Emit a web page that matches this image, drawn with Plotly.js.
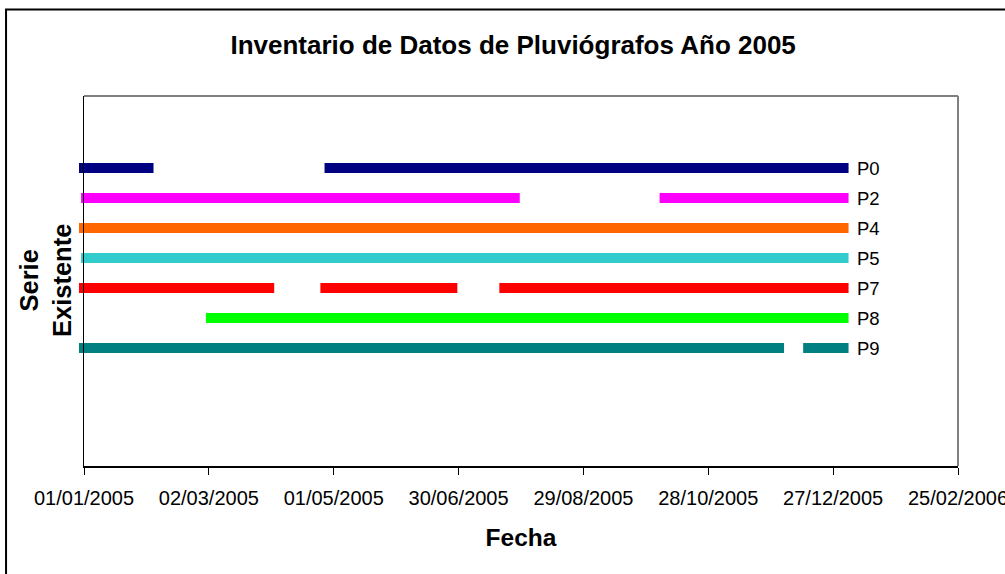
<!DOCTYPE html>
<html>
<head>
<meta charset="utf-8">
<script src="https://cdn.plot.ly/plotly-3.0.1.min.js"></script>
<style>
html,body{margin:0;padding:0;background:#fff;}
#chart{width:1005px;height:574px;}
.scatterlayer path.js-line{stroke-linecap:square;}
</style>
</head>
<body>
<div id="chart"></div>
<script>
// Series names, colours and vertical levels
const seriesNames = ["P0", "P2", "P4", "P5", "P7", "P8", "P9"];
const seriesColors = ["#000080", "#FF00FF", "#FF6600", "#33CCCC", "#FF0000", "#00FF00", "#008080"];
const seriesLevels = [7, 6, 5, 4, 3, 2, 1];

// Periods with existing data (start, end) for each series
const periodsP0 = [["2005-01-01", "2005-02-01"], ["2005-04-29", "2006-01-01"]];
const periodsP2 = [["2005-01-02", "2005-07-27"], ["2005-10-07", "2006-01-01"]];
const periodsP4 = [["2005-01-01", "2006-01-01"]];
const periodsP5 = [["2005-01-02", "2006-01-01"]];
const periodsP7 = [["2005-01-01", "2005-03-31"], ["2005-04-27", "2005-06-27"], ["2005-07-22", "2006-01-01"]];
const periodsP8 = [["2005-03-03", "2006-01-01"]];
const periodsP9 = [["2005-01-01", "2005-12-01"], ["2005-12-15", "2006-01-01"]];
const allPeriods = [periodsP0, periodsP2, periodsP4, periodsP5, periodsP7, periodsP8, periodsP9];

// X axis ticks
const tickDates = ["2005-01-01", "2005-03-02", "2005-05-01", "2005-06-30", "2005-08-29", "2005-10-28", "2005-12-27", "2006-02-25"];
const tickLabels = ["01/01/2005", "02/03/2005", "01/05/2005", "30/06/2005", "29/08/2005", "28/10/2005", "27/12/2005", "25/02/2006"];

const FONT = "Liberation Sans, Arial, sans-serif";

const traces = [];
const annotations = [];
seriesNames.forEach((name, i) => {
  const xs = [], ys = [];
  allPeriods[i].forEach((p, k) => {
    if (k > 0) { xs.push(null); ys.push(null); }
    xs.push(p[0], p[1]);
    ys.push(seriesLevels[i], seriesLevels[i]);
  });
  traces.push({
    x: xs, y: ys, type: "scatter", mode: "lines", name: name,
    line: {color: seriesColors[i], width: 10},
    connectgaps: false, hoverinfo: "skip", showlegend: false
  });
  const periods = allPeriods[i];
  annotations.push({
    x: periods[periods.length - 1][1], y: seriesLevels[i], xref: "x", yref: "y",
    text: name, showarrow: false, xanchor: "left", yanchor: "middle", xshift: 11,
    font: {family: FONT, size: 18.5, color: "#000"}
  });
});

annotations.push({
  xref: "paper", yref: "paper", x: -0.0446, y: 0.5, xanchor: "center", yanchor: "middle",
  text: "<b>Serie<br>Existente</b>", textangle: -90, showarrow: false,
  font: {family: FONT, size: 25.5, color: "#000"}
});

const layout = {
  width: 1005, height: 574,
  margin: {l: 84, r: 47, t: 96, b: 108},
  paper_bgcolor: "#fff", plot_bgcolor: "#fff",
  showlegend: false,
  hovermode: false,
  title: {
    text: "<b>Inventario de Datos de Pluviógrafos Año 2005</b>",
    font: {family: FONT, size: 26, color: "#000"},
    xref: "paper", x: 0.491, xanchor: "center", y: 0.922, yanchor: "middle"
  },
  xaxis: {
    type: "date",
    range: ["2005-01-01", "2006-02-25"],
    tickvals: tickDates, ticktext: tickLabels,
    ticks: "outside", ticklen: 7, tickwidth: 1, tickcolor: "#000",
    ticklabelstandoff: 6, ticklabeloverflow: "allow",
    showgrid: false, zeroline: false,
    showline: true, linecolor: "#000", linewidth: 1.5,
    tickfont: {family: FONT, size: 20, color: "#000"},
    title: {text: "<b>Fecha</b>", font: {family: FONT, size: 24.5, color: "#000"}, standoff: 21}
  },
  yaxis: {
    range: [-2.933, 9.4],
    showticklabels: false, ticks: "", showgrid: false, zeroline: false,
    showline: true, linecolor: "#000", linewidth: 1.5, fixedrange: true
  },
  shapes: [
    {type: "line", xref: "paper", yref: "paper", x0: 0, x1: 1, y0: 1, y1: 1, line: {color: "#808080", width: 2}},
    {type: "line", xref: "paper", yref: "paper", x0: 1, x1: 1, y0: 0, y1: 1, line: {color: "#808080", width: 2}},
    {type: "rect", xref: "paper", yref: "paper", x0: -0.0892, x1: 1.08, y0: -0.32, y1: 1.2335, line: {color: "#000", width: 2}, fillcolor: "rgba(0,0,0,0)", layer: "below"}
  ],
  annotations: annotations
};

Plotly.newPlot("chart", traces, layout, {displayModeBar: false, staticPlot: true}).then(() => {
  document.querySelectorAll("#chart .cartesianlayer [clip-path], #chart .cartesianlayer .plot").forEach(el => {
    el.removeAttribute("clip-path");
    el.style.clipPath = "none";
  });
});
</script>
</body>
</html>
